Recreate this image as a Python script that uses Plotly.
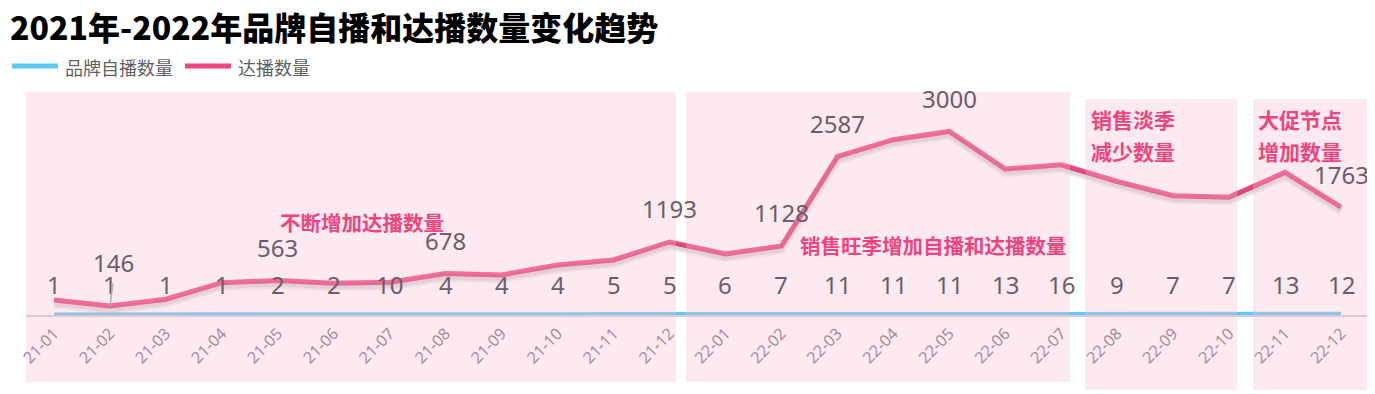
import plotly.graph_objects as go

# ---------------- data ----------------
months = ["21-01", "21-02", "21-03", "21-04", "21-05", "21-06", "21-07", "21-08",
          "21-09", "21-10", "21-11", "21-12", "22-01", "22-02", "22-03", "22-04",
          "22-05", "22-06", "22-07", "22-08", "22-09", "22-10", "22-11", "22-12"]
self_live = [1, 1, 1, 1, 2, 2, 10, 4, 4, 4, 5, 5, 6, 7, 11, 11, 11, 13, 16, 9, 7, 7, 13, 12]
influencer_live = [245, 146, 257, 529, 563, 519, 535, 678, 655, 818, 900, 1193,
                   998, 1128, 2587, 2864, 3000, 2385, 2455, 2182, 1948, 1926, 2330, 1763]
labeled_months = ["21-02", "21-05", "21-08", "21-12", "22-02", "22-03", "22-05", "22-12"]

series_names = ["品牌自播数量", "达播数量"]
title_text = "2021年-2022年品牌自播和达播数量变化趋势"
notes = ["不断增加达播数量", "销售旺季增加自播和达播数量", "销售淡季", "减少数量", "大促节点", "增加数量"]

# ---------------- style ----------------
OFF = 8                      # page body margin
W, H = 1375 - OFF, 394 - OFF
ML = 26 - OFF
MR = W - (1369 - OFF)
MT = 95 - OFF
MB = H - (315 - OFF)
PW, PH = W - ML - MR, H - MT - MB
YMAX = 3595
BLUE = "#5BCBF5"
PINK = "#F04782"
NOTE = "#F0447F"
LABEL = "#6b5d6a"
TICK = "#7f7485"
OVER = "rgba(248,188,208,0.32)"
CJK = "Noto Sans CJK SC"
NUM = "Noto Sans, Noto Sans CJK SC"
step = PW / len(months)


def rx(px):      # reference pixel x -> paper
    return (px - OFF - ML) / PW


def ry(py):      # reference pixel y -> paper
    return (H - MB - (py - OFF)) / PH


def rcat(px):    # reference pixel x -> category index
    return (px - OFF - ML) / step - 0.5


shift_units = 4 * YMAX / PH

fig = go.Figure()
# soft shadow of the pink line (on a shifted overlay axis)
fig.add_trace(go.Scatter(x=months, y=influencer_live, yaxis="y2", mode="lines",
                         line=dict(color="rgba(90,70,80,0.10)", width=8),
                         hoverinfo="skip", showlegend=False))
fig.add_trace(go.Scatter(x=months, y=influencer_live, yaxis="y2", mode="lines",
                         line=dict(color="rgba(90,70,80,0.12)", width=4),
                         hoverinfo="skip", showlegend=False))
fig.add_trace(go.Scatter(x=months, y=self_live, mode="lines", name=series_names[0],
                         line=dict(color=BLUE, width=5), showlegend=False))
fig.add_trace(go.Scatter(x=months, y=influencer_live, mode="lines", name=series_names[1],
                         line=dict(color=PINK, width=5), showlegend=False))

shapes = []
panels = [(25, 676, 92, 382), (686, 1070, 92, 382), (1085, 1237, 99, 390), (1253, 1367, 99, 390)]
for x0, x1, y0, y1 in panels:
    shapes.append(dict(type="rect", xref="x", yref="paper",
                       x0=rcat(x0), x1=rcat(x1), y0=ry(y1), y1=ry(y0),
                       fillcolor=OVER, line=dict(width=0), layer="above"))
# custom legend
shapes.append(dict(type="line", xref="paper", yref="paper", x0=rx(12), x1=rx(58),
                   y0=ry(66), y1=ry(66), line=dict(color=BLUE, width=5)))
shapes.append(dict(type="line", xref="paper", yref="paper", x0=rx(185), x1=rx(231),
                   y0=ry(66), y1=ry(66), line=dict(color=PINK, width=5)))

ann = []
for name, xl in ((series_names[0], 63), (series_names[1], 236)):
    ann.append(dict(xref="paper", yref="paper", x=rx(xl), y=ry(67), xanchor="left", yanchor="middle",
                    text=name, showarrow=False, font=dict(family=CJK, size=18, color="#5f5f5f")))

lab_font = dict(family=NUM, size=24, color=LABEL)
for m, v in zip(months, self_live):
    ann.append(dict(x=m, y=v, yshift=30, text=str(v), showarrow=False, font=lab_font))
for m, v in zip(months, influencer_live):
    if m in labeled_months:
        if m == "21-02":
            ann.append(dict(x=m, y=v, yshift=44, xshift=4, text=str(v), showarrow=False, font=lab_font))
            ann.append(dict(x=m, y=v, ax=3, ay=-24, text="", showarrow=True, arrowhead=0,
                            arrowwidth=1.5, arrowcolor="#b0a8ac", standoff=0))
        else:
            ann.append(dict(x=m, y=v, yshift=33, text=str(v), showarrow=False, font=lab_font))

ann.append(dict(x=rcat(362), y=ry(222), yref="paper", yanchor="middle", text="<b>%s</b>" % notes[0],
                showarrow=False, font=dict(family=CJK, size=20.5, color=NOTE)))
ann.append(dict(x=rcat(933), y=ry(245), yref="paper", yanchor="middle", text="<b>%s</b>" % notes[1],
                showarrow=False, font=dict(family=CJK, size=20.5, color=NOTE)))
for i, xl in ((2, 1089), (4, 1256)):
    ann.append(dict(x=rcat(xl), y=ry(119), yref="paper", xanchor="left", yanchor="middle",
                    text="<b>%s</b>" % notes[i], showarrow=False,
                    font=dict(family=CJK, size=21, color=NOTE)))
    ann.append(dict(x=rcat(xl), y=ry(151), yref="paper", xanchor="left", yanchor="middle",
                    text="<b>%s</b>" % notes[i + 1], showarrow=False,
                    font=dict(family=CJK, size=21, color=NOTE)))

fig.update_layout(
    width=W, height=H,
    margin=dict(l=ML, r=MR, t=MT, b=MB),
    paper_bgcolor="white", plot_bgcolor="white",
    title=dict(text=title_text, xref="container", yref="container",
               x=(10 - OFF) / W, xanchor="left", y=1 - (29 - OFF) / H, yanchor="middle",
               font=dict(family=CJK, size=32, color="#000000", weight=900)),
    xaxis=dict(type="category", range=[-0.5, len(months) - 0.5], showgrid=False, zeroline=False,
               showline=True, linecolor="#d8ccd0", linewidth=2, ticks="", tickangle=-45,
               ticklabelstandoff=1,
               tickfont=dict(family=NUM, size=16, color=TICK)),
    yaxis=dict(range=[0, YMAX], visible=False, showgrid=False, zeroline=False),
    yaxis2=dict(range=[shift_units, YMAX + shift_units], overlaying="y", visible=False,
                showgrid=False, zeroline=False),
    shapes=shapes, annotations=ann, showlegend=False,
)

fig.write_html("out.html")
